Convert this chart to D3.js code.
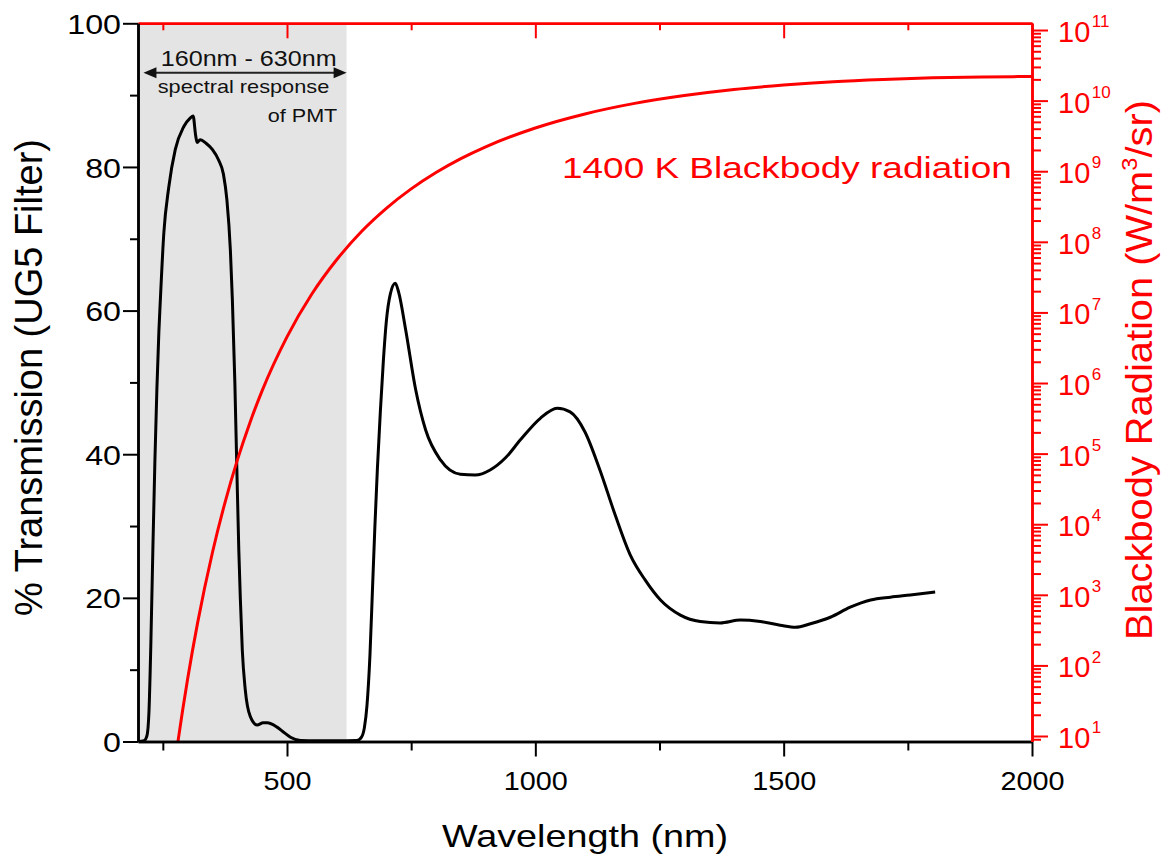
<!DOCTYPE html>
<html>
<head>
<meta charset="utf-8">
<script src="https://cdn.jsdelivr.net/npm/d3@7"></script>
<style>
    body { margin: 0; background: #fff; }
    svg { display: block; font-family: "Liberation Sans", Arial, sans-serif; }
</style>
</head>
<body>
<div class="wrapper"></div>
<script>
// UG5 filter transmission (%)
let ugWavelength = [200, 212, 218, 222, 226, 230, 234, 238, 242, 245, 252, 262, 275, 292, 305, 311, 316, 319,
    325, 337, 350, 362, 372, 379, 386, 390, 395, 399, 403, 406, 410, 416, 426, 440, 452, 460, 480, 495, 507,
    527, 560, 600, 641, 650, 656, 661, 667, 672, 677, 682, 688, 694, 700, 708, 718, 725, 739, 759, 779, 809,
    849, 879, 909, 940, 970, 1010, 1044, 1070, 1100, 1130, 1161, 1191, 1221, 1252, 1292, 1332, 1372, 1413,
    1453, 1493, 1524, 1554, 1594, 1634, 1675, 1715, 1755, 1805];
let ugTransmission = [0, 0.1, 0.8, 4, 14, 27, 39, 49, 57, 61.5, 70.8, 77.2, 82.4, 85.6, 86.8, 87.1, 84.4, 83.4,
    83.8, 83.3, 82.4, 81.0, 79.0, 75.4, 68.4, 61.5, 50, 38, 26.6, 20, 12.7, 7.2, 3.5, 2.3, 2.6, 2.6, 2.0, 1.2, 0.6,
    0.15, 0.1, 0.1, 0.15, 0.6, 2, 5, 12, 21, 30, 38, 46, 53, 58.5, 62.3, 63.8, 62.5, 57.3, 49, 43.4, 39.2,
    37.2, 37.1, 37.8, 39.5, 42, 45, 46.4, 45.9, 43.1, 37.8, 31.5, 26, 22.5, 19.7, 17.6, 16.7, 16.5, 16.9,
    16.7, 16.2, 15.9, 16.4, 17.3, 18.7, 19.7, 20.1, 20.4, 20.8];

// 1400 K blackbody radiance (W/m^3/sr)
let bbWavelength = [280, 290, 300, 320, 350, 375, 400, 425, 450, 500, 550, 600, 650, 700, 750, 800, 850,
    900, 1000, 1100, 1200, 1300, 1400, 1500, 1600, 1700, 1800, 1900, 2000];
let bbRadiance = [7.95, 23.6, 64.9, 400, 4.01e3, 2.01e4, 8.08e4, 2.7e5, 7.8e5, 4.51e6, 1.82e7, 5.57e7, 1.4e8,
    2.98e8, 5.62e8, 9.59e8, 1.51e9, 2.22e9, 4.1e9, 6.48e9, 9.14e9, 1.18e10, 1.44e10, 1.66e10, 1.85e10,
    1.99e10, 2.1e10, 2.16e10, 2.2e10];

let xMajorTicks = [500, 1000, 1500, 2000];
let xMinorTicks = [250, 750, 1250, 1750];
let leftMajorTicks = [0, 20, 40, 60, 80, 100];
let leftMinorTicks = [10, 30, 50, 70, 90];
let rightExponents = [1, 2, 3, 4, 5, 6, 7, 8, 9, 10, 11];
let pmtRange = [200, 620];

let plotLeft = 138;
let plotRight = 1032;
let plotTop = 23.3;
let plotBottom = 741.5;
let red = "#ff0000";

let x = d3.scaleLinear().domain([200, 2000]).range([plotLeft, plotRight]);
let yLeft = d3.scaleLinear().domain([0, 100]).range([plotBottom, plotTop]);
let yRight = d3.scaleLog().domain([8.36, 1.245e11]).range([plotBottom, plotTop]);

let svg = d3.select(".wrapper")
    .append("svg")
    .attr("width", 1164)
    .attr("height", 861);

svg.append("defs").append("clipPath")
    .attr("id", "plotClip")
    .append("rect")
    .attr("x", plotLeft)
    .attr("y", plotTop)
    .attr("width", plotRight - plotLeft)
    .attr("height", plotBottom - plotTop);

// shaded PMT response band
svg.append("rect")
    .attr("x", x(pmtRange[0]))
    .attr("y", plotTop)
    .attr("width", x(pmtRange[1]) - x(pmtRange[0]))
    .attr("height", plotBottom - plotTop)
    .attr("fill", "#e4e4e4");

let curves = svg.append("g").attr("clip-path", "url(#plotClip)");

let ugLine = d3.line()
    .x(function (d) {return x(d[0])})
    .y(function (d) {return yLeft(d[1])})
    .curve(d3.curveMonotoneX);

curves.append("path")
    .datum(d3.zip(ugWavelength, ugTransmission))
    .attr("d", ugLine)
    .attr("fill", "none")
    .attr("stroke", "#000")
    .attr("stroke-width", 3)
    .attr("stroke-linejoin", "round");

let bbLine = d3.line()
    .x(function (d) {return x(d[0])})
    .y(function (d) {return yRight(d[1])})
    .curve(d3.curveMonotoneX);

curves.append("path")
    .datum(d3.zip(bbWavelength, bbRadiance))
    .attr("d", bbLine)
    .attr("fill", "none")
    .attr("stroke", red)
    .attr("stroke-width", 3);

// stretch a text horizontally around its anchor, keeping where it was placed
function stretch(sel, sx) {
    sel.each(function () {
        let t = d3.select(this);
        let tx = +t.attr("x") || 0;
        t.attr("x", 0).attr("transform", "translate(" + tx + ",0) scale(" + sx + ",1)");
    });
}

// fit a placed text to a measured width
function fitText(sel, width) {
    let w = sel.node().getBBox().width;
    sel.attr("transform", sel.attr("transform") + " scale(" + (width / w) + ",1)");
}

function styleAxis(g, color) {
    g.select(".domain").attr("stroke", color).attr("stroke-width", 2.5);
    g.selectAll(".tick line").attr("stroke", color).attr("stroke-width", 2);
}

// bottom axis
let bottomMinor = svg.append("g")
    .attr("transform", "translate(0," + plotBottom + ")")
    .call(d3.axisBottom(x).tickValues(xMinorTicks).tickSize(9).tickSizeOuter(0).tickFormat(""));
styleAxis(bottomMinor, "#000");

let bottomMajor = svg.append("g")
    .attr("transform", "translate(0," + plotBottom + ")")
    .call(d3.axisBottom(x).tickValues(xMajorTicks).tickSize(15).tickSizeOuter(0).tickFormat(d3.format("d")));
styleAxis(bottomMajor, "#000");
bottomMajor.selectAll(".tick text")
    .attr("y", 48.5)
    .attr("dy", 0)
    .attr("fill", "#000")
    .style("font-size", "25.5px")
    .call(stretch, 1.13);

// top axis, red, ticks pointing inwards
let topMinor = svg.append("g")
    .attr("transform", "translate(0," + plotTop + ")")
    .call(d3.axisBottom(x).tickValues(xMinorTicks).tickSize(7).tickSizeOuter(0).tickFormat(""));
styleAxis(topMinor, red);
let topMajor = svg.append("g")
    .attr("transform", "translate(0," + plotTop + ")")
    .call(d3.axisBottom(x).tickValues(xMajorTicks).tickSize(15).tickSizeOuter(0).tickFormat(""));
styleAxis(topMajor, red);

// left axis
let leftMinor = svg.append("g")
    .attr("transform", "translate(" + plotLeft + ",0)")
    .call(d3.axisLeft(yLeft).tickValues(leftMinorTicks).tickSize(8).tickSizeOuter(0).tickFormat(""));
styleAxis(leftMinor, "#000");

let leftMajor = svg.append("g")
    .attr("transform", "translate(" + plotLeft + ",0)")
    .call(d3.axisLeft(yLeft).tickValues(leftMajorTicks).tickSize(15).tickSizeOuter(0).tickPadding(2));
styleAxis(leftMajor, "#000");
leftMajor.selectAll(".tick text")
    .attr("fill", "#000")
    .attr("dy", "0.36em")
    .style("font-size", "28px")
    .call(stretch, 1.15);

// right axis, log scale
let rightMinorTicks = [];
rightExponents.forEach(function (e) {
    for (let k = 2; k <= 9; k++) {
        let v = k * Math.pow(10, e - 1);
        if (v >= yRight.domain()[0] && v <= yRight.domain()[1]) rightMinorTicks.push(v);
    }
});

let rightMinor = svg.append("g")
    .attr("transform", "translate(" + plotRight + ",0)")
    .call(d3.axisRight(yRight).tickValues(rightMinorTicks).tickSize(9).tickSizeOuter(0).tickFormat(""));
styleAxis(rightMinor, red);

let rightMajor = svg.append("g")
    .attr("transform", "translate(" + plotRight + ",0)")
    .call(d3.axisRight(yRight).tickValues(rightExponents.map(function (e) {return Math.pow(10, e)}))
        .tickSize(16).tickSizeOuter(0).tickFormat(""));
styleAxis(rightMajor, red);

rightMajor.selectAll(".tick text").remove();
let rightLabels = rightMajor.selectAll(".tick")
    .append("text")
    .attr("x", 26)
    .attr("y", 11.4)
    .attr("fill", red)
    .attr("text-anchor", "start")
    .style("font-size", "29px");
rightLabels.append("tspan").text("10");
rightLabels.append("tspan")
    .attr("dx", 1.5)
    .attr("dy", -14.7)
    .style("font-size", "17px")
    .text(function (d) {return Math.round(Math.log10(d))});

// axis titles
let xTitle = svg.append("text")
    .attr("transform", "translate(585,846.7)")
    .attr("text-anchor", "middle")
    .style("font-size", "32px")
    .text("Wavelength (nm)");
fitText(xTitle, 286);

let leftTitle = svg.append("text")
    .attr("transform", "translate(42,377.5) rotate(-90)")
    .attr("text-anchor", "middle")
    .style("font-size", "38px")
    .text("% Transmission (UG5 Filter)");
fitText(leftTitle, 477);

let rightTitle = svg.append("text")
    .attr("transform", "translate(1152,370) rotate(-90)")
    .attr("text-anchor", "middle")
    .attr("fill", red)
    .style("font-size", "37px");
rightTitle.append("tspan").text("Blackbody Radiation (W/m");
rightTitle.append("tspan")
    .attr("dy", -15)
    .style("font-size", "22px")
    .text("3");
rightTitle.append("tspan")
    .attr("dy", 15)
    .text("/sr)");
fitText(rightTitle, 540);

// curve label
let bbTitle = svg.append("text")
    .attr("transform", "translate(562,178.3)")
    .attr("fill", red)
    .style("font-size", "29.5px")
    .text("1400 K Blackbody radiation");
fitText(bbTitle, 450);

// PMT annotation
let arrowY = 72.7;
let arrowLeft = x(211);
let arrowRight = x(620);
svg.append("line")
    .attr("x1", arrowLeft + 10)
    .attr("x2", arrowRight - 10)
    .attr("y1", arrowY)
    .attr("y2", arrowY)
    .attr("stroke", "#222")
    .attr("stroke-width", 2);
svg.append("path")
    .attr("d", "M" + arrowLeft + "," + arrowY + "l13,-5.5v11z")
    .attr("fill", "#111");
svg.append("path")
    .attr("d", "M" + arrowRight + "," + arrowY + "l-13,-5.5v11z")
    .attr("fill", "#111");

let rangeText = svg.append("text")
    .attr("transform", "translate(248.7,66)")
    .attr("text-anchor", "middle")
    .attr("fill", "#111")
    .style("font-size", "22.5px")
    .text("160nm - 630nm");
fitText(rangeText, 176);

let respText = svg.append("text")
    .attr("transform", "translate(243.5,93)")
    .attr("text-anchor", "middle")
    .attr("fill", "#111")
    .style("font-size", "17.5px")
    .text("spectral response");
fitText(respText, 171.6);

let pmtText = svg.append("text")
    .attr("transform", "translate(337.3,121.7)")
    .attr("text-anchor", "end")
    .attr("fill", "#111")
    .style("font-size", "17.5px")
    .text("of PMT");
fitText(pmtText, 70);
</script>
</body>
</html>
